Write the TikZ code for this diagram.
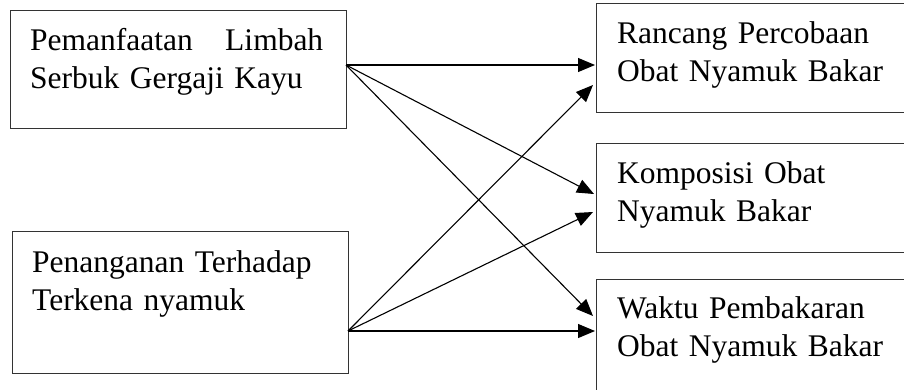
\documentclass[tikz,border=0pt]{standalone}
\usepackage{fontspec}
\setmainfont{Liberation Serif}
\usetikzlibrary{arrows.meta}

\begin{document}
\begin{tikzpicture}[x=1pt, y=-1pt,
  box/.style={draw=black!80, line width=1.3pt, rectangle, inner sep=0pt, anchor=north west},
  txt/.style={anchor=base west, inner sep=0pt, align=left,
    font=\fontsize{31.5}{38.5}\selectfont},
  link/.style={line width=1.1pt, -{Triangle[length=17pt, width=14pt]}}]

  \useasboundingbox (0,0) rectangle (904,389);
  \clip (0,0) rectangle (904,389);

  % source boxes
  \node[box, minimum width=336pt, minimum height=118pt] (src1) at (10,10) {};
  \node[box, minimum width=336pt, minimum height=142pt] (src2) at (12,231) {};

  % target boxes (run past the right and bottom edge)
  \node[box, minimum width=330pt, minimum height=109pt] (dst1) at (596,3) {};
  \node[box, minimum width=330pt, minimum height=109pt] (dst2) at (596,143) {};
  \node[box, minimum width=330pt, minimum height=130pt] (dst3) at (596,279) {};

  % labels
  \node[txt, text width=293pt] (t1) at (30,50) {Pemanfaatan\hfill Limbah\\Serbuk Gergaji Kayu};
  \node[txt, text width=300pt] (t2) at (32,272) {Penanganan Terhadap\\Terkena nyamuk};
  \node[txt, text width=280pt] (t3) at (617,43) {Rancang Percobaan\\Obat Nyamuk Bakar};
  \node[txt, text width=280pt] (t4) at (617,183) {Komposisi Obat\\Nyamuk Bakar};
  \node[txt, text width=280pt] (t5) at (617,318) {Waktu Pembakaran\\Obat Nyamuk Bakar};

  % connector end points
  \coordinate (a) at (346,65);
  \coordinate (b) at (348,331);
  \coordinate (a1) at (595,65);
  \coordinate (a2) at (594,194);
  \coordinate (a3) at (593,316);
  \coordinate (b1) at (593,85);
  \coordinate (b2) at (593,212);
  \coordinate (b3) at (595,331);

  \draw[link] (a) -- (a1);
  \draw[link] (a) -- (a2);
  \draw[link] (a) -- (a3);
  \draw[link] (b) -- (b1);
  \draw[link] (b) -- (b2);
  \draw[link] (b) -- (b3);
\end{tikzpicture}
\end{document}
